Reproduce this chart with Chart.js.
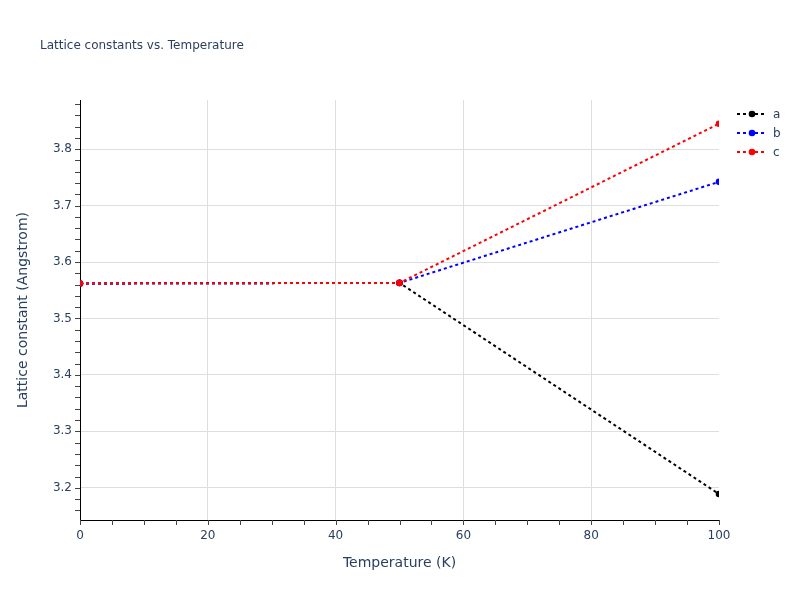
<!DOCTYPE html>
<html>
<head>
<meta charset="utf-8">
<script src="https://cdn.jsdelivr.net/npm/chart.js@4"></script>
<style>
html,body{margin:0;padding:0;background:#fff;}
#wrap{width:800px;height:600px;position:relative;}
</style>
</head>
<body>
<div id="wrap"><canvas id="c" width="800" height="600"></canvas></div>
<script>
const temperatures = [0, 50, 100];
const aValues = [3.562, 3.563, 3.189];
const bValues = [3.562, 3.563, 3.742];
const cValues = [3.562, 3.563, 3.845];
const seriesNames = ['a', 'b', 'c'];
const seriesColors = ['#000000', '#0000ff', '#ff0000'];
const xTickValues = [0, 20, 40, 60, 80, 100];
const yTickValues = [3.2, 3.3, 3.4, 3.5, 3.6, 3.7, 3.8];
const chartTitle = 'Lattice constants vs. Temperature';
const xTitle = 'Temperature (K)';
const yTitle = 'Lattice constant (Angstrom)';

const FONT = '"DejaVu Sans", Verdana, sans-serif';
const TXT = '#2a3f5f';

function mk(name, vals, color, order) {
  return {
    label: name,
    order: order,
    data: temperatures.map((t, i) => ({x: t, y: vals[i]})),
    borderColor: color,
    backgroundColor: color,
    pointBackgroundColor: color,
    pointBorderColor: color,
    borderWidth: 2,
    borderDash: [3, 3],
    pointRadius: 3.3,
    pointHoverRadius: 3.3,
    pointBorderWidth: 0,
    tension: 0,
    clip: 0
  };
}

const decor = {
  id: 'decor',
  afterDraw(chart) {
    const ctx = chart.ctx;
    const xs = chart.scales.x, ys = chart.scales.y;
    const a = chart.chartArea;
    ctx.save();
    // minor ticks
    ctx.strokeStyle = '#444';
    ctx.lineWidth = 1;
    ctx.beginPath();
    for (let v = 3.16; v <= 3.881; v += 0.02) {
      const p = Math.round(ys.getPixelForValue(v)) + 0.5;
      if (p < a.top - 0.5 || p > a.bottom + 0.5) continue;
      ctx.moveTo(a.left - 5, p); ctx.lineTo(a.left, p);
    }
    for (let v = 0; v <= 100; v += 5) {
      const p = Math.round(xs.getPixelForValue(v)) + 0.5;
      ctx.moveTo(p, a.bottom); ctx.lineTo(p, a.bottom + 5);
    }
    ctx.stroke();
    // title
    ctx.fillStyle = TXT;
    ctx.font = '12px ' + FONT;
    ctx.textAlign = 'left';
    ctx.textBaseline = 'middle';
    ctx.fillText(chartTitle, 40, 46);
    // axis titles
    ctx.font = '14px ' + FONT;
    ctx.textAlign = 'center';
    ctx.fillText(xTitle, (a.left + a.right) / 2, 563);
    ctx.save();
    ctx.translate(23, (a.top + a.bottom) / 2);
    ctx.rotate(-Math.PI / 2);
    ctx.fillText(yTitle, 0, 0);
    ctx.restore();
    // legend
    ctx.font = '12px ' + FONT;
    ctx.textAlign = 'left';
    seriesNames.forEach((n, i) => {
      const y = 114 + i * 19;
      ctx.strokeStyle = seriesColors[i];
      ctx.lineWidth = 2;
      ctx.setLineDash([3, 3]);
      ctx.beginPath();
      ctx.moveTo(737, y); ctx.lineTo(767, y);
      ctx.stroke();
      ctx.setLineDash([]);
      ctx.fillStyle = seriesColors[i];
      ctx.beginPath();
      ctx.arc(752, y, 3.3, 0, Math.PI * 2);
      ctx.fill();
      ctx.fillStyle = TXT;
      ctx.fillText(n, 773, y + 1);
    });
    ctx.restore();
  }
};

new Chart(document.getElementById('c'), {
  type: 'line',
  data: {
    datasets: [
      mk(seriesNames[0], aValues, seriesColors[0], 3),
      mk(seriesNames[1], bValues, seriesColors[1], 2),
      mk(seriesNames[2], cValues, seriesColors[2], 1)
    ]
  },
  options: {
    responsive: false,
    animation: false,
    events: [],
    layout: {padding: {top: 100, right: 81, left: 0, bottom: 0}},
    plugins: {legend: {display: false}, title: {display: false}, tooltip: {enabled: false}},
    scales: {
      x: {
        type: 'linear',
        min: 0, max: 100,
        afterBuildTicks: s => { s.ticks = xTickValues.map(v => ({value: v})); },
        afterFit: s => { s.height = 80; },
        grid: {
          color: c => (c.tick && (c.tick.value === 0 || c.tick.value === 100)) ? 'rgba(0,0,0,0)' : '#dedede',
          lineWidth: 1,
          drawTicks: false
        },
        border: {display: true, color: '#000', width: 1},
        ticks: {color: TXT, font: {family: FONT, size: 12}, padding: 9, maxRotation: 0}
      },
      y: {
        type: 'linear',
        min: 3.143, max: 3.887,
        afterBuildTicks: s => { s.ticks = yTickValues.map(v => ({value: v})); },
        afterFit: s => { s.width = 80; },
        grid: {color: '#dedede', lineWidth: 1, drawTicks: false},
        border: {display: true, color: '#000', width: 1},
        ticks: {color: TXT, font: {family: FONT, size: 12}, padding: 8, callback: v => v.toFixed(1)}
      }
    }
  },
  plugins: [decor]
});
</script>
</body>
</html>
